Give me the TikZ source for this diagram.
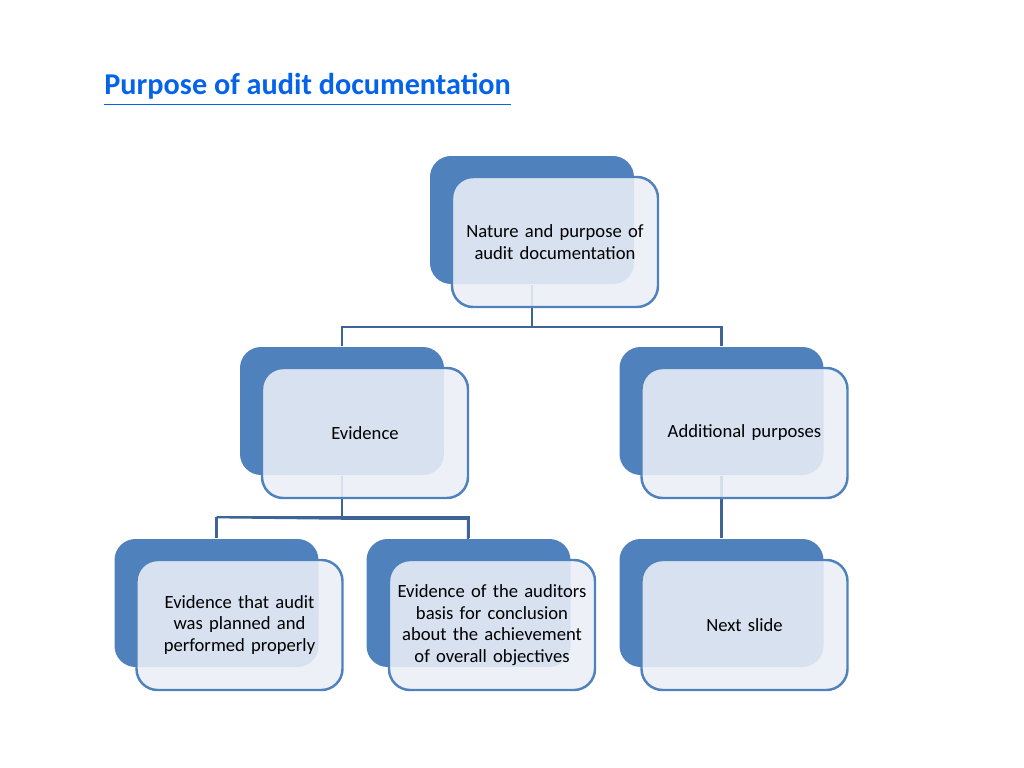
\documentclass[tikz,border=0pt]{standalone}
\usepackage{fontspec}
\setmainfont{Carlito}
\usepackage{tikz}
\usetikzlibrary{positioning,calc}
\definecolor{azulOscuro}{RGB}{79,129,189}
\definecolor{azulLinea}{RGB}{62,100,150}
\definecolor{azulClaro}{RGB}{234,239,246}
\definecolor{azulTitulo}{RGB}{5,99,233}
\tikzstyle{back} =[rectangle, rounded corners=6pt, fill=azulOscuro,
                   minimum width=2.04cm, minimum height=1.28cm,
                   inner sep=0pt]
\tikzstyle{front}=[rectangle, rounded corners=6pt, draw=azulOscuro,
                   fill=azulClaro, fill opacity=0.88, text opacity=1,
                   line width=0.7pt, minimum width=2.06cm,
                   minimum height=1.3cm, text width=1.9cm, align=center,
                   font=\fontsize{5.3}{6.1}\selectfont, inner sep=0pt]
\tikzstyle{link} =[draw=azulLinea, line width=0.6pt]

\begin{document}
\begin{tikzpicture}[y=-1cm]
    \useasboundingbox (0,0) rectangle (10.24,7.68);

    \node[anchor=west, text=azulTitulo, font=\fontsize{8.6}{10}\selectfont\bfseries]
        (title) at (0.92,0.9) {\underline{Purpose of audit documentation}};

    % back boxes
    \node[back] (b0) at (5.32,2.20) {};
    \node[back] (b1) at (3.42,4.11) {};
    \node[back] (b2) at (7.215,4.11) {};
    \node[back] (b3) at (2.165,6.03) {};
    \node[back] (b4) at (4.685,6.03) {};
    \node[back] (b5) at (7.215,6.03) {};

    % connectors
    \coordinate (j0) at ($(b0.south)+(0,0.42)$);
    \coordinate (j1) at ($(b1.south)+(0,0.43)$);
    \draw[link] (b0.south) -- (j0);
    \draw[link] (b1.north) |- (j0) -| (b2.north);
    \draw[link] (b1.south) -- (j1);
    \draw[link] ($(b3.north)+(0,-0.21)$) coordinate (k3) -- (b3.north);
    \draw[link] (k3) -| ($(b4.north)+(-0.0,0)$);
    \draw[link] (k3) -- (j1) -| (4.68,5.39);
    \draw[link] (b2.south) -- (b5.north);

    % front boxes
    \node[front] (f0) at (5.55,2.42) {Nature and purpose of audit documentation};
    \node[front] (f1) at (3.65,4.33) {Evidence};
    \node[front] (f2) at (7.445,4.33) {Additional purposes};
    \node[front] (f3) at (2.395,6.25) {Evidence that audit was planned and performed properly};
    \node[front] (f4) at (4.92,6.25) {Evidence of the auditors basis for conclusion about the achievement of overall objectives};
    \node[front] (f5) at (7.445,6.25) {Next slide};
\end{tikzpicture}
\end{document}
